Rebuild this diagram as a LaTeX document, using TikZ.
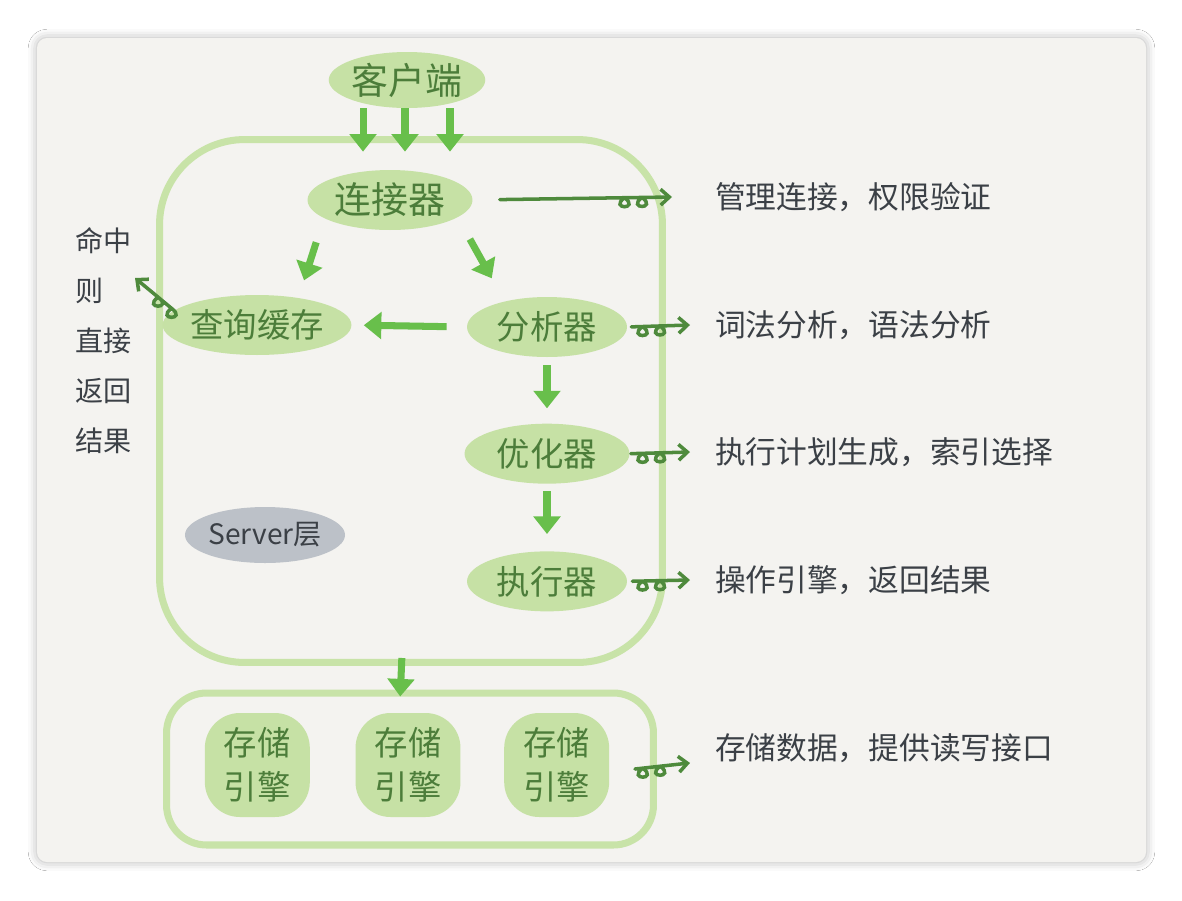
\documentclass[tikz,border=0pt]{standalone}
\usepackage{fontspec}
\newfontfamily\cjk{Noto Sans CJK SC}
\usetikzlibrary{arrows.meta,calc,shapes.geometric,positioning,shadows.blur}
\definecolor{leaf}{HTML}{C6E1A5}
\definecolor{leafline}{HTML}{C8E3A8}
\definecolor{moss}{HTML}{4C7D3A}
\definecolor{vine}{HTML}{4E8A3C}
\definecolor{grass}{HTML}{68BF4B}
\definecolor{ink}{HTML}{3B4046}
\definecolor{slate}{HTML}{BCC1C8}
\definecolor{paper}{HTML}{F4F3F0}
\tikzstyle{blob} = [ellipse, minimum width=3.3cm, minimum height=1.2cm, inner sep=0pt, fill=leaf, text=moss, font=\cjk\fontsize{19}{23}\selectfont]
\tikzstyle{engine} = [rectangle, rounded corners=0.7cm, minimum width=2.1cm, minimum height=2.08cm, fill=leaf, text=moss, align=center, font=\cjk\fontsize{19}{25}\selectfont]
\tikzstyle{layer} = [rectangle, draw=leafline, line width=4pt]
\tikzstyle{note} = [anchor=west, inner sep=0pt, outer xsep=0.5cm, text=ink, font=\cjk\fontsize{17.5}{21}\selectfont]
\tikzstyle{flow} = [draw=grass, line width=4pt, -{Triangle[length=10pt,width=15pt]}]
\tikzstyle{curly} = [draw=vine, line width=2pt, line cap=round, -{Straight Barb[length=5pt,width=9pt]},
  to path={-- ($(\tikztotarget)!0.95cm!(\tikztostart)$) .. controls +(16,12) and +(-16,12) .. ($(\tikztotarget)!0.95cm!(\tikztostart)$)
  -- ($(\tikztotarget)!0.6cm!(\tikztostart)$) .. controls +(16,12) and +(-16,12) .. ($(\tikztotarget)!0.6cm!(\tikztostart)$)
  -- (\tikztotarget) \tikztonodes}]

\begin{document}
\begin{tikzpicture}[x=0.02cm, y=-0.02cm]
    \useasboundingbox (0,0) rectangle (1182,900);
    \fill [white] (0,0) rectangle (1182,900);
    \fill [paper, rounded corners=0.2cm, blur shadow={shadow xshift=0pt, shadow yshift=0pt, shadow blur radius=5pt, shadow opacity=30}] (37,38) rectangle (1146,862);

    \node (server)  [layer, rounded corners=1.7cm, minimum width=10.06cm, minimum height=10.46cm] at (411,401) {};
    \node (storage) [layer, rounded corners=0.8cm, minimum width=9.74cm, minimum height=3.04cm] at (410,769) {};

    \node (kehu)    [blob, minimum width=3.1cm, minimum height=1.12cm, font=\cjk\fontsize{21}{25}\selectfont] at (407,80) {客户端};
    \node (lianjie) [blob, font=\cjk\fontsize{21}{25}\selectfont] at (390,200) {连接器};
    \node (chaxun)  [blob] at (257,325) {查询缓存};
    \node (fenxi)   [blob, minimum width=3.2cm] at (547,327) {分析器};
    \node (youhua)  [blob, below=1.32cm of fenxi] {优化器};
    \node (zhixing) [blob, minimum width=3.2cm, below=1.34cm of youhua] {执行器};
    \node (layername) [blob, fill=slate, text=ink, minimum width=3.2cm, minimum height=1.12cm, font=\cjk\fontsize{16}{20}\selectfont] at (265,535) {Server层};

    \node (eng2) [engine] at (408,765) {存储\\引擎};
    \node (eng1) [engine, left=0.9cm of eng2] {存储\\引擎};
    \node (eng3) [engine, right=0.86cm of eng2] {存储\\引擎};

    \node (lconn)  [note, outer xsep=0.86cm] at (672,197) {管理连接，权限验证};
    \node (lparse) [note] at (690,325) {词法分析，语法分析};
    \node (lopt)   [note] at (690,452) {执行计划生成，索引选择};
    \node (lexec)  [note] at (690,580) {操作引擎，返回结果};
    \node (lstore) [note] at (690,748) {存储数据，提供读写接口};
    \node (hit)    [note, anchor=north west, outer xsep=0pt, align=left, font=\cjk\fontsize{16}{28.5}\selectfont] at (75,227) {命中\\则\\直接\\返回\\结果};
    \coordinate (hitpt) at (135,278);

    \foreach \dx in {-0.88cm,-0.04cm,0.86cm}
        \draw [flow, shorten >=0.36cm] ([xshift=\dx]kehu.south) -- ([xshift=\dx]kehu.south |- lianjie.north);
    \draw [flow, shorten <=0.25cm, shorten >=0.3cm] ([xshift=-1.4cm]lianjie.south) -- ([xshift=0.85cm]chaxun.north);
    \draw [flow, shorten <=0.2cm, shorten >=0.42cm] ([xshift=1.5cm]lianjie.south) -- ([xshift=-0.9cm]fenxi.north);
    \draw [flow, shorten <=0.4cm, shorten >=0.24cm] (fenxi.west) -- (chaxun.east);
    \draw [flow, shorten <=0.16cm, shorten >=0.3cm] (fenxi) -- (youhua);
    \draw [flow, shorten <=0.14cm, shorten >=0.34cm] (youhua) -- (zhixing);
    \draw [flow, shorten <=-0.16cm, shorten >=-0.14cm] ([xshift=-0.19cm]server.south) -- ([xshift=-0.19cm]storage.north);

    \draw [curly, shorten <=0.54cm] (lianjie.east) to (lconn.west);
    \draw [curly, shorten <=0.08cm] (fenxi.east) to (lparse.west);
    \draw [curly, shorten <=0.02cm] (youhua.east) to (lopt.west);
    \draw [curly, shorten <=0.1cm] (zhixing.east) to (lexec.west);
    \draw [curly] ([xshift=-0.44cm]storage.east) to (lstore.south west);
    \draw [curly, shorten <=0.1cm] (chaxun.170) to (hitpt);
\end{tikzpicture}
\end{document}
